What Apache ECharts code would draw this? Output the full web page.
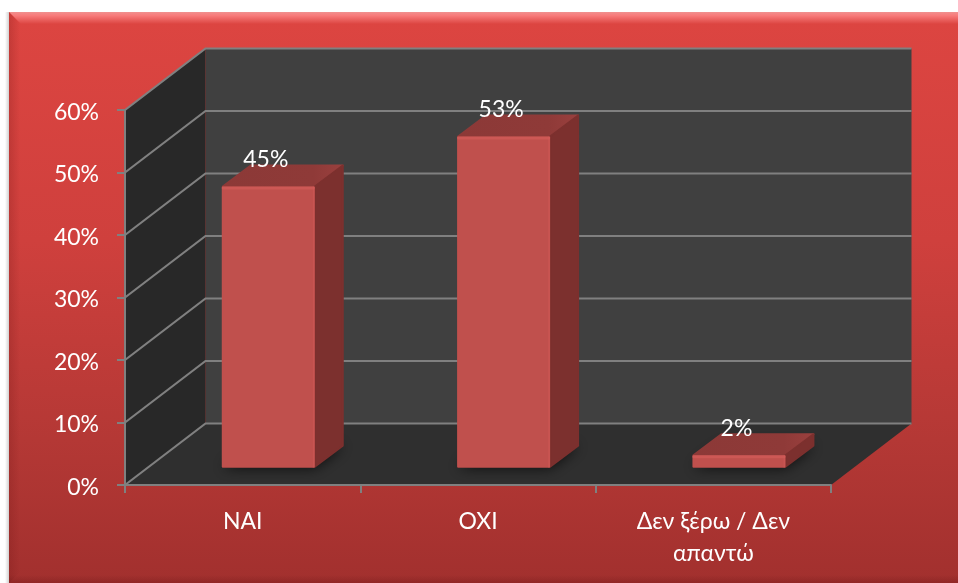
<!DOCTYPE html>
<html>
<head>
<meta charset="utf-8">
<style>html,body{margin:0;padding:0;background:#fff}#c{width:958px;height:583px}</style>
<script src="https://cdn.jsdelivr.net/npm/echarts@6/dist/echarts.min.js"></script>
</head>
<body>
<div id="c"></div>
<script>
const categories = ['ΝΑΙ', 'ΟΧΙ', 'Δεν ξέρω / Δεν\nαπαντώ'];
const values = [45, 53, 2];
const valueTicks = [0, 10, 20, 30, 40, 50, 60];

const FONT = 'Lato, "Open Sans", sans-serif';
const DEPTH_X = 80.5, DEPTH_Y = -61.5;        // wall depth of the 3D box
const BAR_SHIFT_X = 25.6, BAR_SHIFT_Y = -17.3; // bar position inside the box
const BAR_W = 93, BAR_DX = 29, BAR_DY = -22;   // bar width and depth
const GRID = '#808080';

function poly(points, fill) {
  return { type: 'polygon', shape: { points: points }, style: { fill: fill }, silent: true };
}

function renderWalls(params, api) {
  const r = params.coordSys;
  const L = r.x, R = r.x + r.width, T = r.y, B = r.y + r.height;
  const children = [
    poly([[L + DEPTH_X, T + DEPTH_Y], [R + DEPTH_X, T + DEPTH_Y], [R + DEPTH_X, B + DEPTH_Y], [L + DEPTH_X, B + DEPTH_Y]], '#404040'),
    poly([[L, T], [L + DEPTH_X, T + DEPTH_Y], [L + DEPTH_X, B + DEPTH_Y], [L, B]], '#282828'),
    poly([[L, B], [L + DEPTH_X, B + DEPTH_Y], [R + DEPTH_X, B + DEPTH_Y], [R, B]], '#2f2f2f')
  ];
  valueTicks.forEach(function (t) {
    const y = api.coord([0, t])[1];
    children.push({
      type: 'polyline', silent: true,
      shape: { points: [[L, y], [L + DEPTH_X, y + DEPTH_Y], [R + DEPTH_X, y + DEPTH_Y]] },
      style: { stroke: GRID, lineWidth: 2.2, fill: null, lineJoin: 'miter' }
    });
  });
  return { type: 'group', children: children };
}

function renderBar(params, api) {
  const idx = api.value(0), v = api.value(1);
  const top = api.coord([idx, v]);
  const base = api.coord([idx, 0]);
  const xl = top[0] + BAR_SHIFT_X - BAR_W / 2, xr = xl + BAR_W;
  const yt = top[1] + BAR_SHIFT_Y, yb = base[1] + BAR_SHIFT_Y;
  const face = function (pts, fill) {
    return { type: 'polygon', silent: true, shape: { points: pts },
      style: { fill: fill, stroke: fill, lineWidth: 2, lineJoin: 'round' } };
  };
  return {
    type: 'group',
    children: [
      { type: 'polygon', silent: true,
        shape: { points: [[xl, yb], [xr, yb], [xr + BAR_DX, yb + BAR_DY], [xl + BAR_DX, yb + BAR_DY]] },
        style: { fill: '#1c1c1c', shadowColor: 'rgba(0,0,0,0.75)', shadowBlur: 14 } },
      face([[xl + 1, yt], [xl + BAR_DX, yt + BAR_DY + 1], [xr + BAR_DX - 1, yt + BAR_DY + 1], [xr, yt]], {
        type: 'linear', x: 0, y: 0, x2: 1, y2: 0,
        colorStops: [{ offset: 0, color: '#8c3937' }, { offset: 0.75, color: '#8f3a38' }, { offset: 1, color: '#9a403e' }]
      }),
      face([[xr, yt], [xr + BAR_DX - 1, yt + BAR_DY + 1], [xr + BAR_DX - 1, yb + BAR_DY], [xr, yb - 1]], '#7c302e'),
      face([[xl + 1, yt + 1], [xr - 1, yt + 1], [xr - 1, yb - 1], [xl + 1, yb - 1]], '#c0504d'),
      { type: 'rect', silent: true, shape: { x: xl, y: yt, width: BAR_W, height: 3, r: 1 }, style: { fill: 'rgba(215,95,92,0.55)' } },
      { type: 'rect', silent: true, shape: { x: xr - 2, y: yt, width: 2, height: yb - yt }, style: { fill: 'rgba(215,95,92,0.35)' } },
      { type: 'text', silent: true, z2: 10,
        style: { text: v + '%', x: (xl + xr) / 2 - 2.5, y: yt - 27, align: 'center', verticalAlign: 'middle',
          fill: '#ffffff', font: '23px ' + FONT } }
    ]
  };
}

const chart = echarts.init(document.getElementById('c'), null, { renderer: 'canvas' });
chart.setOption({
  animation: false,
  backgroundColor: '#ffffff',
  graphic: [
    { type: 'rect', z: -10, silent: true, shape: { x: 5, y: 12, width: 4, height: 571 },
      style: { fill: { type: 'linear', x: 0, y: 0, x2: 1, y2: 0, colorStops: [{ offset: 0, color: 'rgba(0,0,0,0)' }, { offset: 1, color: 'rgba(0,0,0,0.18)' }] } } },
    { type: 'rect', z: -9, silent: true, shape: { x: 9, y: 12, width: 949, height: 571 },
      style: { fill: { type: 'linear', x: 0, y: 0, x2: 0, y2: 1, colorStops: [{ offset: 0, color: '#dd4541' }, { offset: 0.4, color: '#cf403d' }, { offset: 0.75, color: '#b43835' }, { offset: 1, color: '#a2302e' }] } } },
    { type: 'polygon', z: -8, silent: true, shape: { points: [[9, 12], [958, 12], [958, 24], [21, 24]] },
      style: { fill: { type: 'linear', x: 0, y: 0, x2: 0, y2: 1, colorStops: [{ offset: 0, color: '#f0908e' }, { offset: 0.3, color: '#f87a7a' }, { offset: 1, color: '#dc4541' }] } } },
    { type: 'polygon', z: -8, silent: true, shape: { points: [[9, 12], [20, 24], [20, 572], [9, 583]] },
      style: { fill: { type: 'linear', x: 0, y: 0, x2: 1, y2: 0, colorStops: [{ offset: 0, color: 'rgba(110,20,20,0.22)' }, { offset: 1, color: 'rgba(110,20,20,0)' }] } } },
    { type: 'rect', z: -8, silent: true, shape: { x: 9, y: 575, width: 949, height: 8 },
      style: { fill: { type: 'linear', x: 0, y: 0, x2: 0, y2: 1, colorStops: [{ offset: 0, color: 'rgba(80,10,10,0)' }, { offset: 1, color: 'rgba(80,10,10,0.22)' }] } } }
  ],
  grid: { left: 125, right: 127, top: 110, bottom: 98, containLabel: false },
  xAxis: {
    type: 'category', data: categories, z: 5,
    axisLine: { show: true, lineStyle: { color: GRID, width: 2 } },
    axisTick: { show: true, length: 8, alignWithLabel: false, lineStyle: { color: GRID, width: 2 } },
    axisLabel: { interval: 0, color: '#ffffff', fontFamily: FONT, fontSize: 23, lineHeight: 32, margin: 21 },
    splitLine: { show: false }
  },
  yAxis: {
    type: 'value', min: 0, max: 60, interval: 10, z: 5,
    axisLine: { show: true, lineStyle: { color: GRID, width: 2 } },
    axisTick: { show: true, length: 8, lineStyle: { color: GRID, width: 2 } },
    axisLabel: { formatter: '{v|{value}%}', margin: 26,
      rich: { v: { color: '#ffffff', fontFamily: FONT, fontSize: 23, padding: [5, 0, 0, 0] } } },
    splitLine: { show: false }
  },
  series: [
    { type: 'custom', name: 'walls', z: 1, silent: true, clip: false, renderItem: renderWalls, data: [[0, 0]] },
    { type: 'custom', name: 'Bars', z: 2, silent: true, clip: false, renderItem: renderBar,
      encode: { x: 0, y: 1 }, data: values.map(function (v, i) { return [i, v]; }) }
  ]
});
</script>
</body>
</html>
